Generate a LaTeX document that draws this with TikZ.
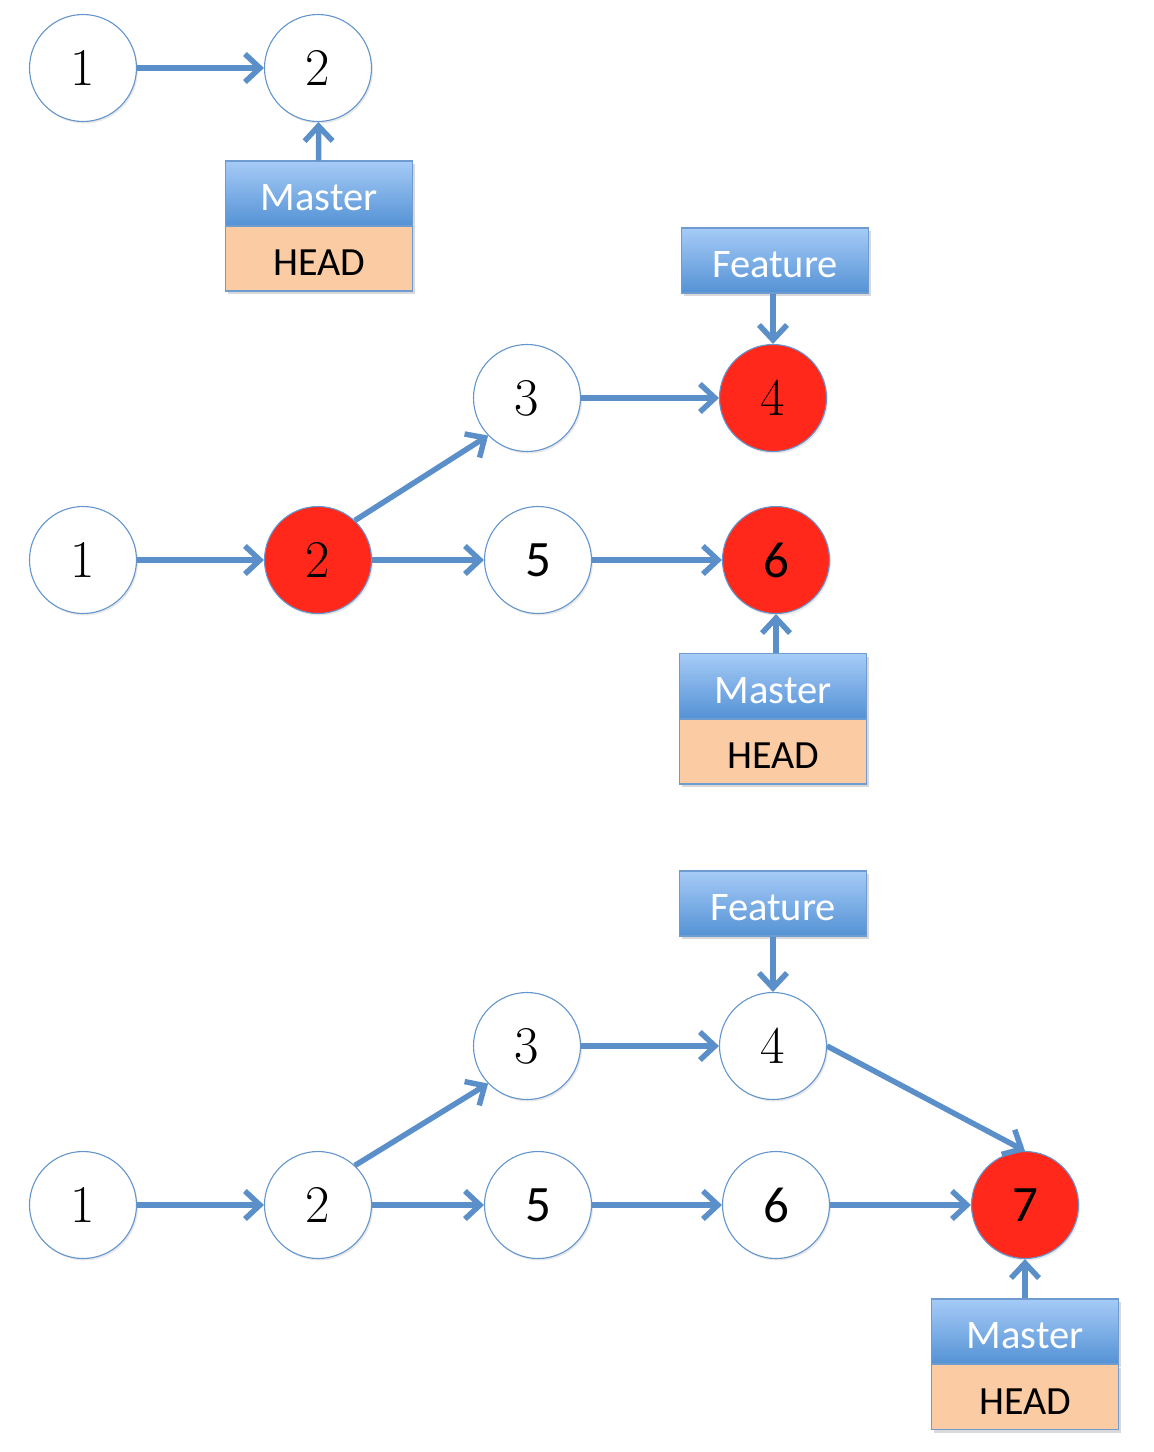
\documentclass[tikz,border=0pt]{standalone}
\usepackage{fontspec}
\newfontfamily\calib{Carlito}
\usetikzlibrary{arrows.meta,shadows}

\definecolor{edgeblue}{RGB}{91,143,201}
\definecolor{ringblue}{RGB}{100,150,205}
\definecolor{commitred}{RGB}{255,40,26}
\definecolor{barlight}{RGB}{166,203,247}
\definecolor{bardark}{RGB}{84,146,213}
\definecolor{headfill}{RGB}{251,203,163}
\definecolor{boxline}{RGB}{110,155,208}

\tikzset{
  commit/.style={circle, minimum size=107pt, inner sep=0pt, draw=ringblue,
    line width=1.1pt, fill=white,
    drop shadow={shadow xshift=1.5pt, shadow yshift=-2pt, opacity=0.18}},
  lmnum/.style={commit, font=\fontsize{53}{60}\selectfont},
  cbnum/.style={commit, font=\calib\fontsize{51}{60}\selectfont},
  tipnode/.style={fill=commitred},
  labelbox/.style={rectangle, minimum width=187pt, minimum height=65pt,
    inner sep=0pt, text height=34pt, text depth=0pt,
    draw=boxline, line width=1.3pt,
    drop shadow={shadow xshift=2pt, shadow yshift=-3pt, opacity=0.3}},
  branchbox/.style={labelbox,
    top color=barlight, bottom color=bardark, text=white,
    font=\calib\fontsize{40.5}{46}\selectfont},
  headbox/.style={labelbox, fill=headfill,
    font=\calib\fontsize{40}{46}\selectfont},
  link/.style={draw=edgeblue, line width=5.5pt,
    -{Straight Barb[length=15pt, width=28pt]}},
}

\begin{document}
\begin{tikzpicture}[x=1pt, y=-1pt]
\useasboundingbox (0,0) rectangle (1154,1452);

% ---- first state: 1 -> 2, master on 2
\node[lmnum] (a1) at (83,68) {1};
\node[lmnum] (a2) at (318,68) {2};
\node[branchbox] (am) at (319,193.5) {Master};
\node[headbox] (ah) at (319,258.5) {HEAD};
\draw[link] (a1) -- (a2);
\draw[link] (am) -- (a2);

% ---- second state: feature branch 3,4 and master 5,6
\node[branchbox] (bf) at (775,260.5) {Feature};
\node[lmnum] (b3) at (527,398) {3};
\node[lmnum, tipnode] (b4) at (773,398) {4};
\node[lmnum] (b1) at (83,560) {1};
\node[lmnum, tipnode] (b2) at (318,560) {2};
\node[cbnum] (b5) at (538,560) {5};
\node[cbnum, tipnode] (b6) at (776,560) {6};
\node[branchbox] (bm) at (773,686) {Master};
\node[headbox] (bh) at (773,751.5) {HEAD};
\draw[link] (b1) -- (b2);
\draw[link] (b2.47) -- (b3.224);
\draw[link] (b3) -- (b4);
\draw[link] (b2) -- (b5);
\draw[link] (b5) -- (b6);
\draw[link] (bf.south -| b4) -- (b4);
\draw[link] (bm.north -| b6) -- (b6);

% ---- third state: merge commit 7
\node[branchbox] (cf) at (773,903.5) {Feature};
\node[lmnum] (c3) at (527,1046) {3};
\node[lmnum] (c4) at (773,1046) {4};
\node[lmnum] (c1) at (83,1205) {1};
\node[lmnum] (c2) at (318,1205) {2};
\node[cbnum] (c5) at (538,1205) {5};
\node[cbnum] (c6) at (776,1205) {6};
\node[cbnum, tipnode] (c7) at (1025,1205) {7};
\node[branchbox] (cm) at (1025,1331.5) {Master};
\node[headbox] (ch) at (1025,1397) {HEAD};
\draw[link] (c1) -- (c2);
\draw[link] (c2.47) -- (c3.224);
\draw[link] (c3) -- (c4);
\draw[link] (c2) -- (c5);
\draw[link] (c5) -- (c6);
\draw[link] (c6) -- (c7);
\draw[link] (c4.east) -- (c7.north);
\draw[link] (cf) -- (c4);
\draw[link] (cm) -- (c7);
\end{tikzpicture}
\end{document}
